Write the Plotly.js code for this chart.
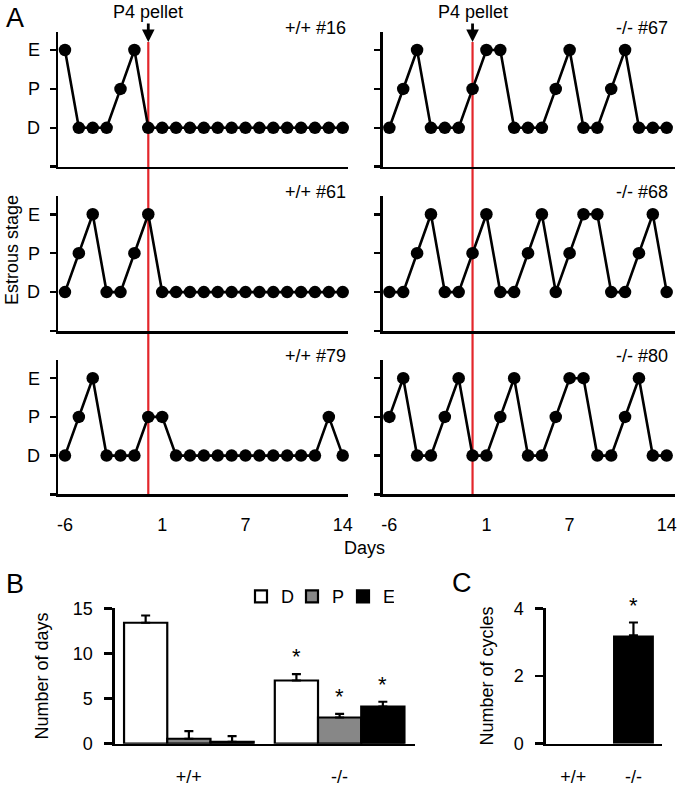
<!DOCTYPE html>
<html><head><meta charset="utf-8">
<script src="https://cdn.plot.ly/plotly-3.0.1.min.js"></script>
<style>html,body{margin:0;padding:0;background:#fff}#chart{width:677px;height:789px}</style>
</head><body><div id="chart"></div>
<script>
// ---------- Data: panel A (estrous stage per day) ----------
const DAYS = [-6,-5,-4,-3,-2,-1,0,1,2,3,4,5,6,7,8,9,10,11,12,13,14];
const DAY_TICKS = [-6, 1, 7, 14];
const STAGES = ['D', 'P', 'E'];
const PELLET_DAY = 0;
const PELLET_LABEL = 'P4 pellet';
const PANEL_TITLES = ['+/+ #16', '-/- #67', '+/+ #61', '-/- #68', '+/+ #79', '-/- #80'];
const S16 = ['E','D','D','D','P','E','D','D','D','D','D','D','D','D','D','D','D','D','D','D','D'];
const S67 = ['D','P','E','D','D','D','P','E','E','D','D','D','P','E','D','D','P','E','D','D','D'];
const S61 = ['D','P','E','D','D','P','E','D','D','D','D','D','D','D','D','D','D','D','D','D','D'];
const S68 = ['D','D','P','E','D','D','P','E','D','D','P','E','D','P','E','E','D','D','P','E','D'];
const S79 = ['D','P','E','D','D','D','P','P','D','D','D','D','D','D','D','D','D','D','D','P','D'];
const S80 = ['P','E','D','D','P','E','D','D','P','E','D','D','P','E','E','D','D','P','E','D','D'];

// ---------- Data: panel B (number of days in each stage) ----------
const GENOTYPES = ['+/+', '-/-'];
const DAYS_D = [13.4, 7.0];   const DAYS_D_SEM = [0.8, 0.7];
const DAYS_P = [0.55, 2.9];   const DAYS_P_SEM = [0.85, 0.4];
const DAYS_E = [0.2, 4.1];    const DAYS_E_SEM = [0.65, 0.55];
const STARS_B = ['', '*'];
const B_TICKS = [0, 5, 10, 15];

// ---------- Data: panel C (number of cycles) ----------
const CYCLES = [0, 3.2];
const CYCLES_SEM = [NaN, 0.38];
const STARS_C = ['', '*'];
const C_TICKS = [0, 2, 4];

// ---------- Layout helpers ----------
const W = 677, H = 789;
const fx = p => p / W;
const fy = p => 1 - p / H;
const FONT = 'Arial, "Liberation Sans", sans-serif';
const COLS = [[58.3, 348], [382.7, 675]];
const COL_RANGES = [[-6.48, 14.38], [-6.48, 14.6]];
const ROWS = [[31.7, 166.7], [196, 331], [360, 494.3]];
const SERIES = [S16, S67, S61, S68, S79, S80];
const RED = '#e3262b';

const data = [];
const layout = {
  width: W, height: H,
  margin: {l: 0, r: 0, t: 0, b: 0},
  paper_bgcolor: '#fff', plot_bgcolor: 'rgba(0,0,0,0)',
  font: {family: FONT, size: 18, color: '#000'},
  showlegend: true,
  barmode: 'group', bargap: 0.14, bargroupgap: 0,
  annotations: [], shapes: []
};

SERIES.forEach((s, i) => {
  const col = i % 2, row = Math.floor(i / 2);
  const n = i + 1;
  const xa = 'xaxis' + n, ya = 'yaxis' + n;
  data.push({
    type: 'scatter', mode: 'lines+markers',
    x: DAYS, y: s.map(v => STAGES.indexOf(v)),
    xaxis: 'x' + n, yaxis: 'y' + n,
    line: {color: '#000', width: 2.6},
    marker: {color: '#000', size: 12.5},
    showlegend: false, cliponaxis: false, hoverinfo: 'skip'
  });
  layout[xa] = {
    domain: [fx(COLS[col][0]), fx(COLS[col][1])],
    anchor: 'y' + n, range: COL_RANGES[col],
    showline: true, linecolor: '#000', linewidth: 2.6,
    showgrid: false, zeroline: false, ticks: '',
    tickmode: 'array', tickvals: DAY_TICKS, ticktext: DAY_TICKS.map(String),
    showticklabels: row === 2, ticklabelstandoff: 12,
    tickfont: {size: 18}, fixedrange: true
  };
  layout[ya] = {
    domain: [fy(ROWS[row][1]), fy(ROWS[row][0])],
    anchor: 'x' + n, range: [-1, 2.47],
    showline: true, linecolor: '#000', linewidth: 2.6,
    showgrid: false, zeroline: false,
    ticks: 'outside', ticklen: 6, tickwidth: 2.6, tickcolor: '#000',
    tickmode: 'array', tickvals: [-1, 0, 1, 2], ticktext: [''].concat(STAGES),
    showticklabels: col === 0, ticklabelstandoff: 6,
    tickfont: {size: 18}, fixedrange: true
  };
  layout.annotations.push({
    xref: 'x' + n + ' domain', yref: 'y' + n + ' domain',
    x: 1, y: 1, xanchor: 'right', yanchor: 'middle',
    xshift: col === 0 ? 0 : -5, yshift: 4,
    text: PANEL_TITLES[i], showarrow: false, font: {size: 18}
  });
});

// pellet line + arrow labels (one per column, on the top row axes)
[1, 2].forEach(n => {
  layout.shapes.push({
    type: 'line', xref: 'x' + n, yref: 'paper',
    x0: PELLET_DAY, x1: PELLET_DAY, y0: fy(ROWS[2][1]), y1: fy(42),
    line: {color: RED, width: 2.2}, layer: 'below'
  });
  layout.annotations.push({
    xref: 'x' + n, yref: 'paper', x: PELLET_DAY, y: fy(42),
    text: PELLET_LABEL, showarrow: true, arrowhead: 2, arrowsize: 0.9,
    arrowwidth: 2.8, arrowcolor: '#000', ax: 0, ay: -30,
    font: {size: 18}, standoff: 0
  });
});

// shared labels for panel A
layout.annotations.push(
  {xref: 'paper', yref: 'paper', x: fx(364.5), y: fy(548), text: 'Days',
   showarrow: false, font: {size: 18}, xanchor: 'center', yanchor: 'middle'},
  {xref: 'paper', yref: 'paper', x: fx(12), y: fy(250), text: 'Estrous stage',
   textangle: -90, showarrow: false, font: {size: 18}, xanchor: 'center', yanchor: 'middle'},
  {xref: 'paper', yref: 'paper', x: fx(15), y: fy(18), text: 'A',
   showarrow: false, font: {size: 27}, xanchor: 'center', yanchor: 'middle'},
  {xref: 'paper', yref: 'paper', x: fx(15), y: fy(584), text: 'B',
   showarrow: false, font: {size: 27}, xanchor: 'center', yanchor: 'middle'},
  {xref: 'paper', yref: 'paper', x: fx(462), y: fy(583), text: 'C',
   showarrow: false, font: {size: 27}, xanchor: 'center', yanchor: 'middle'}
);

// ---------- Panel B ----------
const B_SETS = [
  {name: 'D', y: DAYS_D, e: DAYS_D_SEM, color: '#ffffff'},
  {name: 'P', y: DAYS_P, e: DAYS_P_SEM, color: '#878787'},
  {name: 'E', y: DAYS_E, e: DAYS_E_SEM, color: '#000000'}
];
B_SETS.forEach(b => {
  data.push({
    type: 'bar', name: b.name, x: GENOTYPES, y: b.y,
    xaxis: 'x7', yaxis: 'y7',
    marker: {color: b.color, line: {color: '#000', width: 2.2}},
    error_y: {type: 'data', array: b.e, arrayminus: b.e.map(() => 0), symmetric: false,
              color: '#000', thickness: 2.2, width: 4.5},
    hoverinfo: 'skip', cliponaxis: false
  });
});
const bw = (1 - layout.bargap) / B_SETS.length;
B_SETS.forEach((b, k) => {
  GENOTYPES.forEach((g, gi) => {
    if (!STARS_B[gi]) return;
    layout.annotations.push({
      xref: 'x7', yref: 'y7', x: gi + (k - 1) * bw, y: b.y[gi] + b.e[gi],
      text: STARS_B[gi], showarrow: false, font: {size: 22},
      xanchor: 'center', yanchor: 'bottom', yshift: 3
    });
  });
});
layout.xaxis7 = {
  domain: [fx(115), fx(415)], anchor: 'y7', type: 'category',
  categoryorder: 'array', categoryarray: GENOTYPES, range: [-0.49, 1.5],
  showline: true, linecolor: '#000', linewidth: 2.6, ticks: '',
  showgrid: false, zeroline: false, ticklabelstandoff: 15,
  tickfont: {size: 18}, fixedrange: true
};
layout.yaxis7 = {
  domain: [fy(743.7), fy(608.3)], anchor: 'x7', range: [0, 15],
  showline: true, linecolor: '#000', linewidth: 2.6,
  ticks: 'outside', ticklen: 8, tickwidth: 2.6, tickcolor: '#000',
  tickmode: 'array', tickvals: B_TICKS, showgrid: false, zeroline: false,
  ticklabelstandoff: 8, tickfont: {size: 18},
  title: {text: 'Number of days', font: {size: 18}, standoff: 20}, fixedrange: true
};
layout.legend = {
  orientation: 'h', x: fx(241), y: fy(596.7), xanchor: 'left', yanchor: 'middle',
  font: {size: 18}, entrywidth: 6, entrywidthmode: 'pixels', itemwidth: 30,
  bgcolor: 'rgba(0,0,0,0)', tracegroupgap: 0
};

// ---------- Panel C ----------
data.push({
  type: 'bar', name: 'cycles', x: GENOTYPES, y: CYCLES, width: 0.68,
  xaxis: 'x8', yaxis: 'y8', showlegend: false,
  marker: {color: '#000', line: {color: '#000', width: 0}},
  error_y: {type: 'data', array: CYCLES_SEM, arrayminus: CYCLES_SEM.map(v => isNaN(v) ? NaN : 0), symmetric: false,
            color: '#000', thickness: 2.2, width: 4.5},
  hoverinfo: 'skip', cliponaxis: false
});
GENOTYPES.forEach((g, gi) => {
  if (!STARS_C[gi]) return;
  layout.annotations.push({
    xref: 'x8', yref: 'y8', x: gi, y: CYCLES[gi] + CYCLES_SEM[gi],
    text: STARS_C[gi], showarrow: false, font: {size: 22},
    xanchor: 'center', yanchor: 'bottom', yshift: 3
  });
});
layout.xaxis8 = {
  domain: [fx(546), fx(661.7)], anchor: 'y8', type: 'category',
  categoryorder: 'array', categoryarray: GENOTYPES, range: [-0.455, 1.47],
  showline: true, linecolor: '#000', linewidth: 2.6, ticks: '',
  showgrid: false, zeroline: false, ticklabelstandoff: 15,
  tickfont: {size: 18}, fixedrange: true
};
layout.yaxis8 = {
  domain: [fy(743.7), fy(608.3)], anchor: 'x8', range: [0, 4],
  showline: true, linecolor: '#000', linewidth: 2.6,
  ticks: 'outside', ticklen: 8, tickwidth: 2.6, tickcolor: '#000',
  tickmode: 'array', tickvals: C_TICKS, showgrid: false, zeroline: false,
  ticklabelstandoff: 8, tickfont: {size: 18},
  title: {text: 'Number of cycles', font: {size: 18}, standoff: 16}, fixedrange: true
};

Plotly.newPlot('chart', data, layout, {staticPlot: true, displayModeBar: false});
</script></body></html>
